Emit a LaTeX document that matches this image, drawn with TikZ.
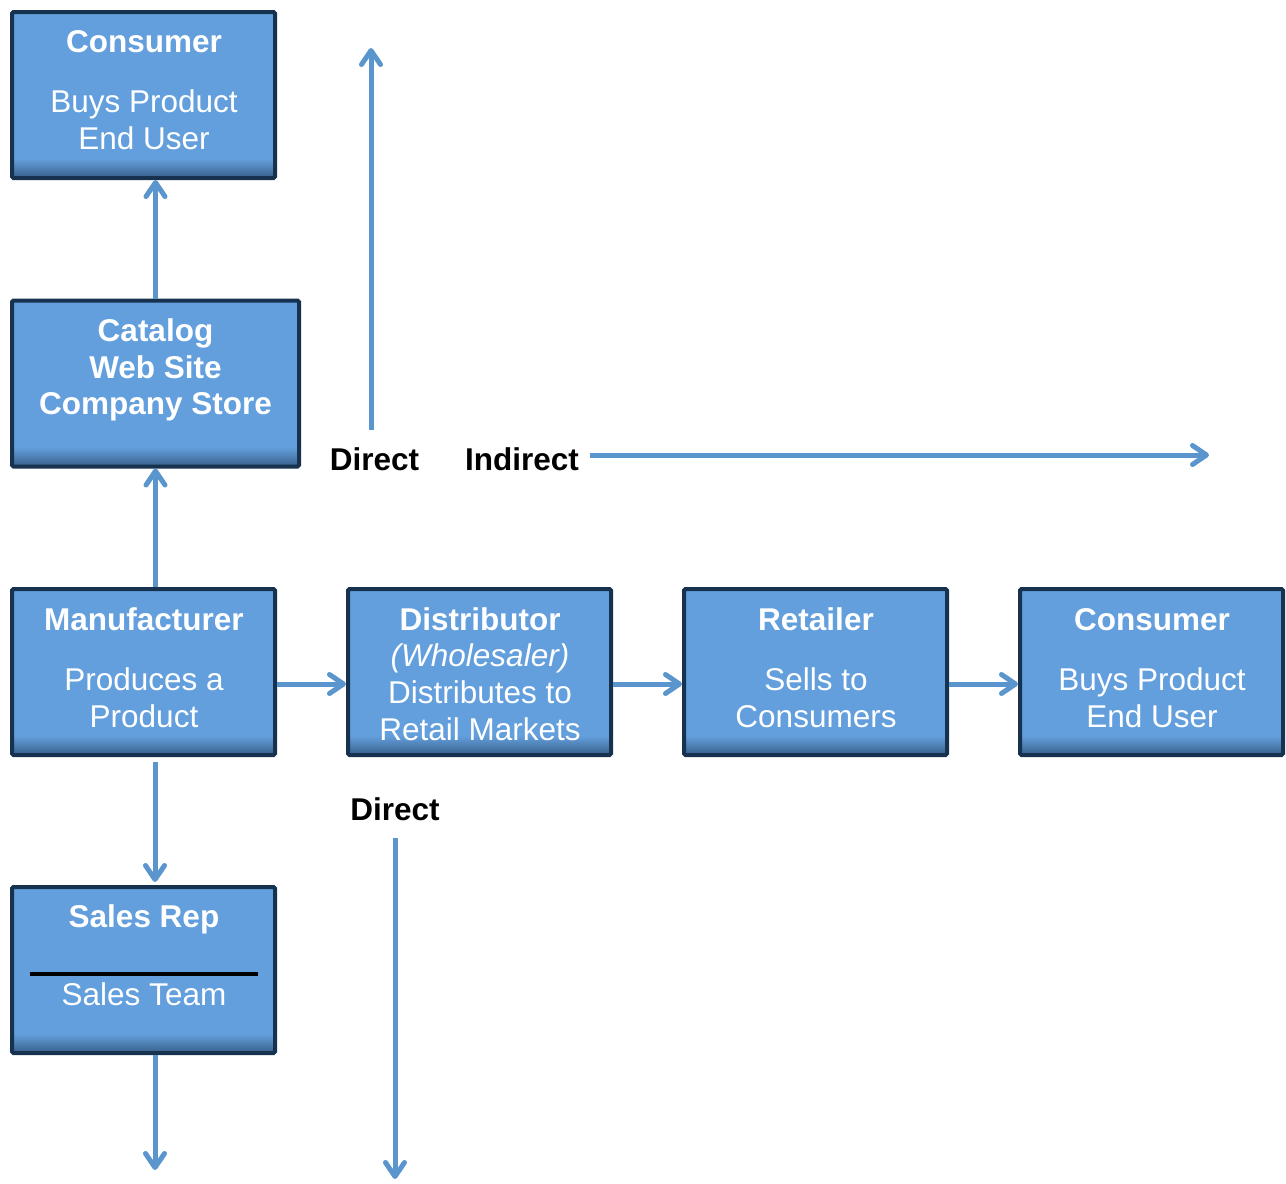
\documentclass[tikz,border=0pt]{standalone}
\usepackage{fontspec}
\setmainfont{Liberation Sans}
\usetikzlibrary{arrows.meta}
\definecolor{boxblue}{RGB}{99,159,220}
\definecolor{boxdark}{RGB}{58,98,142}
\definecolor{boxline}{RGB}{23,50,78}
\definecolor{arrblue}{RGB}{91,149,206}
\tikzset{
 box/.style={draw=boxline, line width=4pt, fill=boxblue, rounded corners=1.5pt,
   minimum width=263pt, minimum height=166pt, inner sep=0pt,
   path picture={\foreach \i [evaluate=\i as \p using \i*100/18] in {0,...,17}
     \fill[boxblue!\p!boxdark] ([yshift=\i pt]path picture bounding box.south west)
       rectangle ([yshift=\i pt+1.3pt]path picture bounding box.south east);}},
 widebox/.style={minimum width=287pt},
 ttl/.style={anchor=base, text=white, font=\fontsize{31.5}{36}\selectfont\bfseries, inner sep=0pt},
 txt/.style={anchor=base, text=white, font=\fontsize{31.5}{36}\selectfont, inner sep=0pt},
 lbl/.style={anchor=base, text=black, font=\fontsize{31.5}{36}\selectfont\bfseries, inner sep=0pt},
 arr/.style={draw=arrblue, line width=5pt, -{Straight Barb[length=14pt,width=19pt,round]}},
}
\begin{document}
\begin{tikzpicture}[x=1pt,y=-1pt]
\useasboundingbox (0,0) rectangle (1286,1184);
% boxes
\node[box] (cons1) at (143.5,95) {};
\node[box,widebox] (cat) at (155.5,383.5) {};
\node[box] (man) at (143.5,672) {};
\node[box] (dist) at (479.5,672) {};
\node[box] (ret) at (815.5,672) {};
\node[box] (cons2) at (1151.5,672) {};
\node[box] (sales) at (143.5,970) {};
% texts
\node[ttl] (c1t) at (144,52) {Consumer};
\node[txt] (c1a) at (144,112) {Buys Product};
\node[txt] (c1b) at (144,149) {End User};
\node[ttl] (catt) at (155.5,341.5) {Catalog};
\node[ttl] (cata) at (155.5,378) {Web Site};
\node[ttl] (catb) at (155.5,414.5) {Company Store};
\node[ttl] (mant) at (144,630) {Manufacturer};
\node[txt] (mana) at (144,690) {Produces a};
\node[txt] (manb) at (144,727) {Product};
\node[ttl] (distt) at (480,630) {Distributor};
\node[txt] (dista) at (480,666.5) {\itshape (Wholesaler)};
\node[txt] (distb) at (480,703) {Distributes to};
\node[txt] (distc) at (480,740) {Retail Markets};
\node[ttl] (rett) at (816,630) {Retailer};
\node[txt] (reta) at (816,690) {Sells to};
\node[txt] (retb) at (816,727) {Consumers};
\node[ttl] (c2t) at (1152,630) {Consumer};
\node[txt] (c2a) at (1152,690) {Buys Product};
\node[txt] (c2b) at (1152,727) {End User};
\node[ttl] (salt) at (144,927.5) {Sales Rep};
\node[txt] (sala) at (144,1005) {Sales Team};
\draw[line width=3.5pt, black] (30,974) -- (258,974);
% labels
\node[lbl] (dir1) at (374.5,470) {Direct};
\node[lbl] (ind) at (522,470) {Indirect};
\node[lbl] (dir2) at (395,820) {Direct};
% free ends
\coordinate (du0) at (371,430);
\coordinate (du1) at (371,48);
\coordinate (in0) at (590,455);
\coordinate (in1) at (1209,455);
\coordinate (dd0) at (395,838);
\coordinate (dd1) at (395,1179);
\coordinate (sEnd) at (155,1170);
% arrows
\draw[arr] (cat.north) -- (cat.north |- cons1.south);
\draw[arr] (man.north -| cat.north) -- (cat.south);
\draw[arr] ([xshift=11.5pt,yshift=-5pt]man.south) -- ([xshift=11.5pt,yshift=3pt]sales.north);
\draw[arr] (sales.south -| sEnd) -- (sEnd);
\draw[arr] ([yshift=-12pt]man.east) -- ([yshift=-12pt]dist.west);
\draw[arr] ([yshift=-12pt]dist.east) -- ([yshift=-12pt]ret.west);
\draw[arr] ([yshift=-12pt]ret.east) -- ([yshift=-12pt]cons2.west);
\draw[arr] (du0) -- (du1);
\draw[arr] (in0) -- (in1);
\draw[arr] (dd0) -- (dd1);
\end{tikzpicture}
\end{document}
